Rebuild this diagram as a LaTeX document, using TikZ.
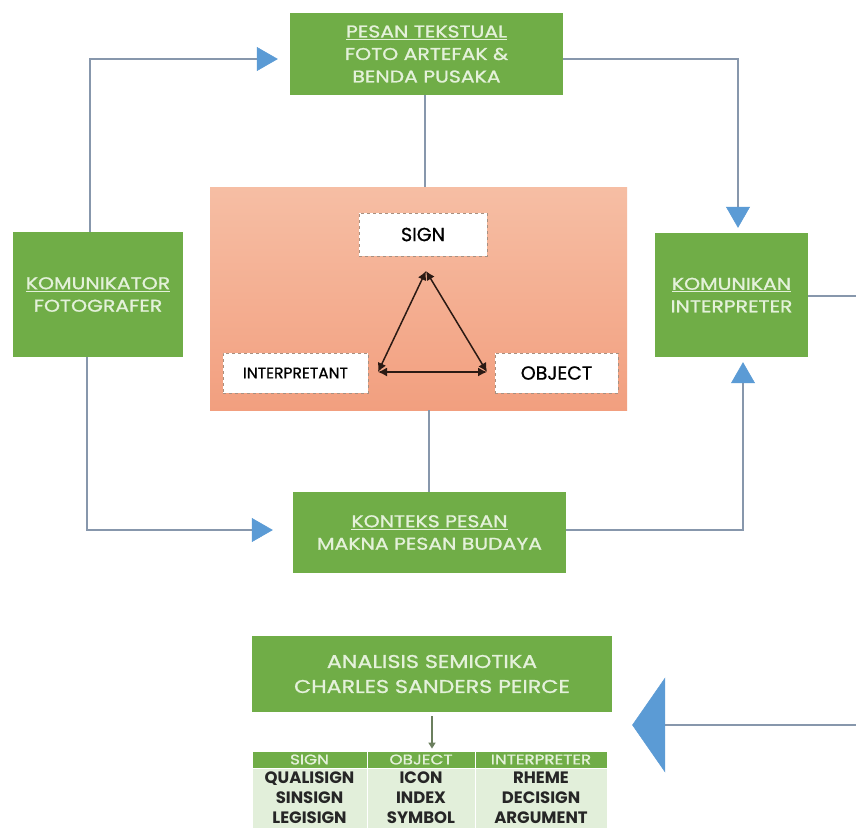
\documentclass[tikz,border=0pt]{standalone}
\usepackage{fontspec}
\setmainfont{Poppins}
\newfontfamily\boxfont[FakeStretch=1.2,FakeBold=1.2]{Poppins}
\newfontfamily\midfont[FakeBold=0.8]{Poppins}
\usetikzlibrary{arrows.meta}
\definecolor{gbox}{HTML}{70AD47}
\definecolor{gtext}{HTML}{E4F1DA}
\definecolor{connc}{HTML}{8797AC}
\definecolor{ablue}{HTML}{5B9BD5}
\definecolor{otop}{HTML}{F6BEA4}
\definecolor{obot}{HTML}{F29F7F}
\definecolor{tbody}{HTML}{E2EFDA}
\definecolor{dashc}{HTML}{A89080}
\definecolor{tric}{HTML}{2B1A14}
\definecolor{garrow}{HTML}{6B7F5E}
\tikzset{
  gbox/.style={fill=gbox, draw=none, text=gtext, align=center, inner sep=0pt,
    font=\boxfont\fontsize{17}{22.5}\selectfont},
  conn/.style={draw=connc, line width=1.8pt},
  blue arrow/.style={conn, -{Triangle[length=21pt,width=24pt,fill=ablue,color=ablue,line width=0.5pt]}},
  wbox/.style={fill=white, draw=dashc, dashed, line width=0.6pt, inner sep=0pt, text=black},
  tri/.style={draw=tric, line width=1.5pt, {Latex[length=9pt,width=9pt]}-{Latex[length=9pt,width=9pt]}},
  thead/.style={fill=gbox, draw=white, line width=0.8pt, text=gtext, inner sep=0pt, minimum height=17pt,
    font=\boxfont\fontsize{14}{15}\selectfont},
  tcell/.style={fill=tbody, draw=white, line width=0.8pt, text=black!85, inner sep=0pt, minimum height=60pt,
    align=center, font=\bfseries\fontsize{16.5}{20}\selectfont},
}
\begin{document}
\begin{tikzpicture}[x=1pt,y=-1pt]
\useasboundingbox (0,0) rectangle (856,828);
\fill[white] (0,0) rectangle (856,828);

% main boxes
\node[gbox, minimum width=273pt, minimum height=82pt] (pesan) at (426.5,54)
  {\underline{PESAN TEKSTUAL}\\FOTO ARTEFAK \&\\BENDA PUSAKA};
\node[gbox, minimum width=170pt, minimum height=125pt] (komr) at (98,294.5)
  {\underline{KOMUNIKATOR}\\FOTOGRAFER};
\node[gbox, minimum width=153pt, minimum height=124pt] (kmk) at (731.5,295)
  {\underline{KOMUNIKAN}\\INTERPRETER};
\node[gbox, minimum width=273pt, minimum height=81pt] (konteks) at (429.5,532.5)
  {\underline{KONTEKS PESAN}\\MAKNA PESAN BUDAYA};

% orange panel
\node[draw=none, top color=otop, bottom color=obot, minimum width=417pt, minimum height=223pt, inner sep=0pt]
  (panel) at (418.5,298.5) {};
\node[wbox, minimum width=128pt, minimum height=43pt, font=\midfont\fontsize{19}{20}\selectfont] (sign) at (423,234.5) {SIGN};
\node[wbox, minimum width=145pt, minimum height=40pt, font=\midfont\fontsize{15.5}{17}\selectfont] (interp) at (295.5,373) {INTERPRETANT};
\node[wbox, minimum width=123pt, minimum height=40pt, font=\midfont\fontsize{19}{20}\selectfont] (object) at (556.5,373) {OBJECT};

\coordinate (ta) at (426,271);
\coordinate (tl) at (378,372);
\coordinate (tr) at (487,372);
\draw[tri] (ta) -- (tl);
\draw[tri] (ta) -- (tr);
\draw[tri] (tl) -- (tr);

% connectors
\coordinate (p1) at (90,59);
\coordinate (p2) at (738,59);
\coordinate (p3) at (87,530);
\coordinate (p4) at (743,530);
\coordinate (v1) at (425,0);
\coordinate (v2) at (429,0);
\coordinate (e1) at (856,296);
\coordinate (e2) at (856,725);

\draw[blue arrow, shorten >=12pt] (komr.north -| p1) -- (p1) -- (p1 -| pesan.west);
\draw[blue arrow, shorten >=5pt] (pesan.east |- p2) -- (p2) -- (p2 |- kmk.north);
\draw[conn] (pesan.south -| v1) -- (panel.north -| v1);
\draw[conn] (panel.south -| v2) -- (konteks.north -| v2);
\draw[blue arrow, shorten >=20pt] (komr.south -| p3) -- (p3) -- (p3 -| konteks.west);
\draw[blue arrow, shorten >=5pt] (konteks.east |- p4) -- (p4) -- (p4 |- kmk.south);
\draw[conn] (kmk.east |- e1) -- (e1);

% analysis
\node[gbox, minimum width=360pt, minimum height=76pt, font=\boxfont\fontsize{18.5}{25}\selectfont] (ana) at (432,674)
  {ANALISIS SEMIOTIKA\\CHARLES SANDERS PEIRCE};
\draw[conn, -{Triangle[length=33pt,width=95pt,fill=ablue,color=ablue,line width=0.5pt]}, shorten >=20pt]
  (e2) -- (e2 -| ana.east);

% table
\node[thead, minimum width=115pt] (h1) at (309.5,759.5) {SIGN};
\node[thead, minimum width=108pt] (h2) at (421,759.5) {OBJECT};
\node[thead, minimum width=132pt] (h3) at (541,759.5) {INTERPRETER};
\node[tcell, minimum width=115pt] (c1) at (309.5,798) {QUALISIGN\\SINSIGN\\LEGISIGN};
\node[tcell, minimum width=108pt] (c2) at (421,798) {ICON\\INDEX\\SYMBOL};
\node[tcell, minimum width=132pt] (c3) at (541,798) {RHEME\\DECISIGN\\ARGUMENT};

\draw[draw=garrow, line width=1.5pt, -{Triangle[length=6pt,width=7pt]}, shorten <=4pt, shorten >=2pt]
  (ana.south) -- (ana.south |- h2.north);
\end{tikzpicture}
\end{document}
